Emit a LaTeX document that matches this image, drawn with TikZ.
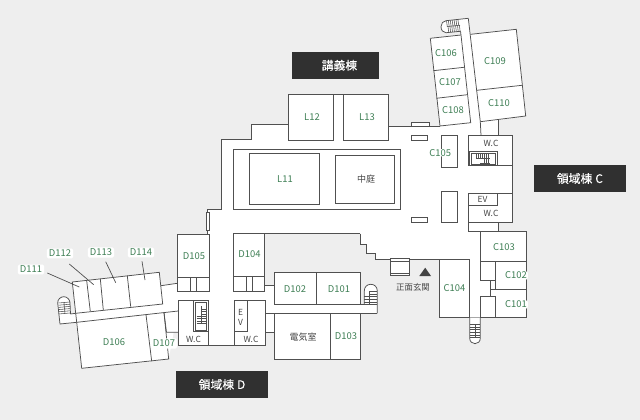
\documentclass[tikz,border=0pt]{standalone}
\usepackage{fontspec}
\setmainfont{Noto Sans CJK JP}
\newfontfamily\banfont[FakeBold=0.25]{Noto Sans CJK JP}
\definecolor{bgc}{HTML}{EEEEEE}
\definecolor{wallc}{HTML}{505050}
\definecolor{roomc}{HTML}{3F7F55}
\definecolor{textc}{HTML}{444444}
\definecolor{banc}{HTML}{303030}
\tikzset{
 wall/.style={draw=wallc,line width=0.95pt,line join=miter},
 thin wall/.style={draw=wallc,line width=0.75pt},
 tick/.style={draw=wallc,line width=0.55pt},
 room/.style={text=roomc,font=\fontsize{9.4}{10}\selectfont,inner sep=0pt},
 roomhalo/.style={room,fill=white,rounded corners=1.5pt,inner xsep=2pt,inner ysep=1.5pt},
 plain/.style={text=textc,font=\fontsize{9}{10}\selectfont,inner sep=0pt},
 small/.style={text=textc,font=\fontsize{8.4}{10}\selectfont,inner sep=0pt},
 banner/.style={fill=banc,text=white,font=\banfont\fontsize{11.8}{12}\selectfont,inner sep=0pt,anchor=center},
 leader/.style={draw=wallc,line width=0.7pt},
}
\begin{document}
\begin{tikzpicture}[x=1pt,y=-1pt]
\useasboundingbox (0,0) rectangle (640,420);
\fill[bgc] (0,0) rectangle (640,420);
% floor
\fill[white] (221.7,139.7)--(251.7,139.7)--(251.7,124.5)--(288.5,124.5)--(288.5,94.5)--(388.5,94.5)--(388.5,126.3)--(411.3,126.3)--(411.3,122.3)--(429.7,122.3)--(429.7,126.3)--(440,126.3)--(430.3,38.3)--(461,35)--(460.5,31.3)--(446,32.7) .. controls (443,32.7) and (441,30) .. (441,26.7) .. controls (441,23.5) and (443,21) .. (446,20.7)--(468.3,18.3)--(470.7,34.3)--(516.3,29.3)--(525.7,116)--(498.7,120)--(498.7,135.3)--(512.3,135.3)--(512.3,222)--(498.3,222)--(498.3,231.3)--(526.3,231.3)--(526.3,317.3)--(480.3,317.3)--(480.3,338) .. controls (480.3,341.5) and (478,343.7) .. (475,343.7) .. controls (472,343.7) and (469.7,341.5) .. (469.7,338)--(469.7,317.3)--(439.3,317.3)--(439.3,259.3)--(375.3,259.3)--(375.3,253)--(366.7,253)--(366.7,244.3)--(360.3,244.3)--(360.3,233.7)--(264.3,233.7)--(264.3,285.7)--(274.3,285.7)--(274.3,272.3)--(360.3,272.3)--(360.3,304.3)--(364.3,304.3)--(364.3,291) .. controls (364.3,287) and (367,284.3) .. (370.8,284.3) .. controls (374.6,284.3) and (377.3,287) .. (377.3,291)--(377.3,313.3)--(360.3,313.3)--(360.3,359.3)--(274.3,359.3)--(274.3,332.3)--(265.7,332.3)--(265.7,345)--(178.3,345)--(178.3,332.3)--(173.7,332.3)--(168.7,359)--(81.7,368.3)--(76,322.3)--(60,324)--(57.7,303) .. controls (57.5,299.5) and (60.5,296.7) .. (63.8,296.7) .. controls (67,296.7) and (70,299.5) .. (70,303)--(70.5,314)--(75.7,313.3)--(72.3,282)--(159.3,272.3)--(161,285.7)--(177.3,283)--(177.3,234.3)--(207.3,234.3)--(207.3,209.3)--(221.7,209.3)--cycle;
% outer wall, north
\draw[wall] (288.5,124.5)--(251.7,124.5)--(251.7,139.7)--(221.7,139.7)--(221.7,209.3)--(207.3,209.3)--(207.3,234.3);
\draw[wall] (388.5,126.3)--(439.7,126.3);
\draw[wall] (288.5,94.5) rectangle (333.5,140.5);
\draw[wall] (343.5,94.5) rectangle (388.5,140.5);
\draw[wall] (333.5,94.5)--(343.5,94.5);
\draw[wall] (233.3,149.3) rectangle (400.3,209.3);
\draw[wall] (249.3,153.3) rectangle (319.3,204.3);
\draw[wall] (335.3,155.3) rectangle (394.3,203.3);
\draw[thin wall,fill=white] (206.3,212.3) rectangle (209.7,230.7);
\draw[thin wall] (411.3,122.3) rectangle (429.7,126.3);
\draw[thin wall] (411.3,135.3) rectangle (427.7,140.3);
\draw[thin wall] (411.3,217.3) rectangle (427.7,222.3);
% C wing north
\draw[thin wall] (430.3,38.3)--(461,35);
\draw[thin wall] (430.3,38.3)--(440,126)--(470.7,122.7)--(461,35)--(460.5,31.3);
\draw[thin wall] (433.3,70.7)--(464,67.3);
\draw[thin wall] (436.3,98.3)--(467.3,94.7);
\draw[thin wall] (468.3,18.3)--(480.3,121.7)--(481,135.3);
\draw[thin wall] (470.7,34.3)--(516.3,29.3)--(525.7,116)--(480.3,121.7);
\draw[thin wall] (476.7,90.3)--(522,85.3);
\draw[thin wall] (498.7,120)--(498.7,135.3);
\draw[thin wall] (468.3,18.3)--(446,20.7) .. controls (443,21) and (441,23.5) .. (441,26.7) .. controls (441,30) and (443,32.7) .. (446,32.7)--(460.5,31.3);
\foreach \i in {0,...,6}{
 \draw[tick] ({446.5+\i*1.9},{20.8-\i*0.2})--({447.3+\i*1.9},{26.5-\i*0.2});
}
\foreach \i in {0,...,6}{
 \draw[tick] ({448+\i*1.9},{26.3-\i*0.2})--({448.7+\i*1.9},{32.5-\i*0.2});
}
\draw[tick] (447,26.6)--(460,25.2);
% C wing centre
\draw[wall] (441.3,135.3) rectangle (457.3,167.3);
\draw[wall] (441.3,191.3) rectangle (457.3,222);
\draw[wall] (468.3,135.3) rectangle (512.3,165.3);
\draw[thin wall] (469,151.7) rectangle (497.7,165.3);
\draw[thin wall] (471,153.3) rectangle (495.7,164);
\foreach \i in {0,...,6}{
 \draw[tick] ({476+\i*2},154)--({476+\i*2},{\i<4?158.5:163.2});
}
\draw[tick] (476,158.5)--(490,158.5);
\draw[tick] (480,163.2)--(490,163.2);
\draw[wall] (512.3,165.3)--(512.3,193.3);
\draw[wall] (468.3,193.3) rectangle (512.3,222);
\draw[wall] (468.3,193.3) rectangle (497.7,205.3);
\draw[wall] (468.3,222)--(468.3,231.3)--(498.3,231.3)--(498.3,222);
% C wing south
\draw[wall] (480.3,231.3) rectangle (526.3,261.3);
\draw[wall] (495.3,261.3) rectangle (526.3,289.3);
\draw[wall] (490.7,289.3) rectangle (526.3,317.3);
\draw[wall,fill=white] (480.3,261.3) rectangle (495.3,280.3);
\draw[wall] (490.7,280.3)--(490.7,296);
\draw[wall,fill=white] (480.3,296) rectangle (495.3,317.3);
\draw[wall] (439.3,259.3) rectangle (469.7,317.3);
\draw[thin wall] (469.7,317.3)--(469.7,338) .. controls (469.7,341.5) and (472,343.7) .. (475,343.7) .. controls (478,343.7) and (480.3,341.5) .. (480.3,338)--(480.3,317.3);
\draw[draw=wallc!50,line width=0.7pt] (469.7,317.3)--(480.3,317.3);
\foreach \i in {0,...,5}{
 \draw[tick] (469.7,{324.5+\i*2.6})--(480.3,{324.5+\i*2.6});
}
\draw[tick] (475,324.5)--(475,337.5);
% entrance
\draw[wall] (360.3,233.7)--(360.3,244.3)--(366.7,244.3)--(366.7,253)--(375.3,253)--(375.3,259.3)--(439.3,259.3);
\draw[wall,fill=white] (390.3,258.3) rectangle (409.7,275.7);
\draw[thin wall] (390.3,261)--(409.7,261);
\draw[thin wall] (390.3,273.3)--(409.7,273.3);
\fill[textc] (419.3,276)--(425.2,267.7)--(431,276)--cycle;
% D wing
\draw[wall] (264.3,233.7)--(360.3,233.7);
\draw[wall] (177.3,234.3) rectangle (209.3,291.3);
\draw[thin wall] (177.3,277.3)--(209.3,277.3);
\draw[thin wall] (190.7,277.3)--(190.7,291.3);
\draw[thin wall] (196.3,277.3)--(196.3,291.3);
\draw[wall] (233.3,233.7) rectangle (264.3,291.3);
\draw[thin wall] (233.3,276.7)--(264.3,276.7);
\draw[thin wall] (246.3,276.7)--(246.3,291.3);
\draw[thin wall] (252.3,276.7)--(252.3,291.3);
\draw[wall] (274.3,272.3) rectangle (360.3,304.3);
\draw[wall] (316.7,272.3)--(316.7,304.3);
\draw[wall] (264.3,285.7)--(274.3,285.7);
\draw[wall] (274.3,313.3) rectangle (360.3,359.3);
\draw[wall] (330.3,313.3)--(330.3,359.3);
\draw[wall] (265.7,332.3)--(274.3,332.3);
\draw[wall] (265.7,313.3)--(377.3,313.3);
\draw[thin wall] (360.3,304.3)--(377.3,304.3);
\draw[thin wall] (377.3,313.3)--(377.3,291) .. controls (377.3,287) and (374.6,284.3) .. (370.8,284.3) .. controls (367,284.3) and (364.3,287) .. (364.3,291)--(364.3,304.3);
\foreach \i in {0,...,5}{
 \draw[tick] ({\i<2?369:364.3},{291.5+\i*2.6})--(377.3,{291.5+\i*2.6});
}
\draw[tick] (369,291.5)--(369,304.3);
\draw[wall] (234.3,300.3) rectangle (265.7,345);
\draw[wall] (234.3,300.3) rectangle (247.7,331.7);
\draw[wall] (178.3,300.3) rectangle (208.3,345);
\draw[wall] (193.3,300.3) rectangle (208.3,331.7);
\draw[thin wall] (195,302.7) rectangle (206.7,330);
\foreach \i in {0,...,6}{
 \draw[tick] ({\i<3?201:196.5},{309+\i*2.4})--(205.5,{309+\i*2.4});
}
\draw[tick] (201,306)--(201,323);
\draw[wall] (208.3,345)--(234.3,345);
% west block
\draw[thin wall] (72.3,282)--(159.3,272.3)--(162.7,304)--(75.7,313.3)--cycle;
\draw[thin wall] (86.7,280.7)--(90.3,311.3);
\draw[thin wall] (100.3,278.7)--(103.3,310);
\draw[thin wall] (127.3,275.7)--(130.7,306.7);
\draw[thin wall] (161,285.7)--(177.3,283.3);
\draw[thin wall] (75.7,313.3)--(76.7,322.3)--(81.7,368.3)--(168.7,359)--(164,312.7);
\draw[thin wall] (76.7,322.3)--(178.3,311);
\draw[thin wall] (146,314.7)--(151.7,361.3);
\draw[thin wall] (164,312.7)--(166.5,332.3)--(178.3,332.3);
\draw[thin wall] (70.5,314)--(75.7,313.3);
\draw[thin wall] (76.7,322.3)--(60,324)--(57.7,303) .. controls (57.5,299.5) and (60.5,296.7) .. (63.8,296.7) .. controls (67,296.7) and (70,299.5) .. (70,303)--(70.5,314);
\foreach \i in {0,...,5}{
 \draw[tick] (58.5,{303+\i*2.2})--(70,{302+\i*2.2});
}
\draw[tick] (64,303)--(65,313.5);
% labels
\node[room] (c106) at (446,53.5) {C106};
\node[room] (c107) at (450,82.5) {C107};
\node[room] (c108) at (453,110.5) {C108};
\node[room] (c109) at (495,61.5) {C109};
\node[room] (c110) at (499,103.5) {C110};
\node[room] (l12) at (312,117.5) {L12};
\node[room] (l13) at (367,117.5) {L13};
\node[room] (l11) at (285,179.5) {L11};
\node[plain] (court) at (366,179.5) {中庭};
\node[roomhalo,inner xsep=0pt,inner ysep=0pt] (c105) at (440.3,152.7) {C105};
\node[small] (wc1) at (491,143.5) {W.C};
\node[small] (ev1) at (482.5,199.5) {EV};
\node[small] (wc2) at (491,213.5) {W.C};
\node[room] (c103) at (504,247.5) {C103};
\node[roomhalo,inner xsep=1pt,inner ysep=0.5pt] (c102) at (516,275.5) {C102};
\node[roomhalo,inner xsep=1pt,inner ysep=0.5pt] (c101) at (516,304.5) {C101};
\node[room] (c104) at (454.5,288.5) {C104};
\node[small] (entr) at (413,287.5) {正面玄関};
\node[room] (d105) at (194,256.5) {D105};
\node[room] (d104) at (249.5,254) {D104};
\node[room] (d102) at (295,289.5) {D102};
\node[room] (d101) at (339,289.5) {D101};
\node[plain] (elec) at (303,337.5) {電気室};
\node[room] (d103) at (346,336.5) {D103};
\node[small] (wc3) at (193.5,339) {W.C};
\node[small] (wc4) at (251,339) {W.C};
\node[small] (ev2) at (240.5,312) {E};
\node[small] (ev3) at (240.5,322) {V};
\node[room] (d106) at (114,342.5) {D106};
\node[roomhalo] (d107) at (164,343.5) {D107};
\node[roomhalo] (d111) at (31,269.5) {D111};
\node[roomhalo] (d112) at (60,253.5) {D112};
\node[roomhalo] (d113) at (101,252.5) {D113};
\node[roomhalo] (d114) at (141,252.5) {D114};
\coordinate (p111) at (79.3,287);
\coordinate (p112) at (93.7,284.7);
\coordinate (p113) at (115.7,282.7);
\coordinate (p114) at (145,280);
\coordinate (q111) at (47.3,273);
\coordinate (q112) at (69.3,264);
\coordinate (q113) at (105.7,261.7);
\coordinate (q114) at (142,261.3);
\draw[leader] (q111)--(p111);
\draw[leader] (q112)--(p112);
\draw[leader] (q113)--(p113);
\draw[leader] (q114)--(p114);
% banners
\node[banner,minimum width=87pt,minimum height=26.5pt] (bl) at (335.8,65.3) {\hspace*{7.4pt}講義棟};
\node[banner,minimum width=91.7pt,minimum height=27pt] (bc) at (579.9,178.5) {領域棟\hspace{3pt}C};
\node[banner,minimum width=92pt,minimum height=27pt] (bd) at (222,384.5) {領域棟\hspace{3pt}D};
\end{tikzpicture}
\end{document}
